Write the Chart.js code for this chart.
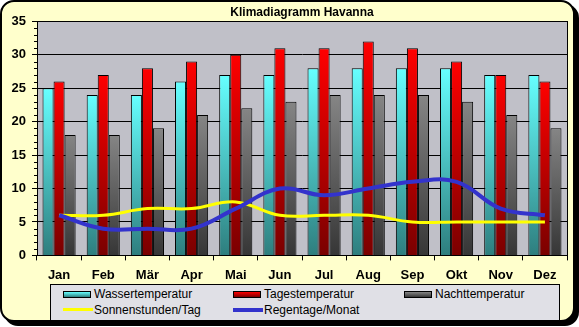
<!DOCTYPE html>
<html>
<head>
<meta charset="utf-8">
<script src="https://cdn.jsdelivr.net/npm/chart.js@4/dist/chart.umd.min.js"></script>
<style>
	html, body { margin: 0; padding: 0; background: #fff; }
	#wrap { position: relative; width: 579px; height: 327px; overflow: hidden; }
	#frame {
		position: absolute; left: 0; top: 0; width: 571px; height: 318px;
		background: #ffffcc; border: 2px solid #000; border-radius: 14px;
		box-shadow: 4px 4px 0 #000;
	}
	#chart { position: absolute; left: 0; top: 0; }
	#legend {
		position: absolute; left: 50px; top: 284px; width: 508px; height: 35px;
		background: #e0e0e6; border: 1px solid #000;
		font: 12px "Liberation Sans", Arial, sans-serif; color: #000;
	}
	.item { position: absolute; height: 16px; line-height: 16px; white-space: nowrap; }
	.sw { position: absolute; left: 0; top: 5px; width: 26px; height: 5px; border: 1px solid #000; }
	.ln { position: absolute; left: 0; top: 6px; width: 30px; height: 3px; }
	.item span.t { position: absolute; left: 31px; top: 0; }
</style>
</head>
<body>
<div id="wrap">
	<div id="frame"></div>
	<canvas id="chart" width="579" height="327"></canvas>
	<div id="legend"></div>
</div>
<script>
( function () {
	'use strict';

	var months      = [ 'Jan', 'Feb', 'Mär', 'Apr', 'Mai', 'Jun', 'Jul', 'Aug', 'Sep', 'Okt', 'Nov', 'Dez' ];
	var wasserTemp  = [ 25, 24, 24, 26, 27, 27, 28, 28, 28, 28, 27, 27 ];
	var tagesTemp   = [ 26, 27, 28, 29, 30, 31, 31, 32, 31, 29, 27, 26 ];
	var nachtTemp   = [ 18, 18, 19, 21, 22, 23, 24, 24, 24, 23, 21, 19 ];
	var sonnenStd   = [ 6, 6, 7, 7, 8, 6, 6, 6, 5, 5, 5, 5 ];
	var regenTage   = [ 6, 4, 4, 4, 7, 10, 9, 10, 11, 11, 7, 6 ];
	var yTicks      = [ 0, 5, 10, 15, 20, 25, 30, 35 ];

	Chart.defaults.font.family = '"Liberation Sans", Arial, sans-serif';
	Chart.defaults.color = '#000';

	// vertical gradient from the top of each bar down to the axis
	function barGradient( top, bottom ) {
		return function ( ctx ) {
			var chart = ctx.chart;
			if ( !chart.chartArea || ctx.raw === undefined ) {
				return top;
			}
			var y = chart.scales.y;
			var g = chart.ctx.createLinearGradient( 0, y.getPixelForValue( ctx.raw ), 0, y.getPixelForValue( 0 ) );
			g.addColorStop( 0, top );
			g.addColorStop( 1, bottom );
			return g;
		};
	}

	var plotFrame = {
		id: 'plotFrame',
		beforeDraw: function ( chart ) {
			var a = chart.chartArea, c = chart.ctx;
			c.save();
			c.fillStyle = '#c0c0c8';
			c.fillRect( a.left, a.top, a.right - a.left, a.bottom - a.top );
			c.restore();
		},
		afterDraw: function ( chart ) {
			var a = chart.chartArea, c = chart.ctx, y = chart.scales.y;
			c.save();
			c.strokeStyle = '#000';
			c.lineWidth = 1;
			c.strokeRect( Math.round( a.left ) + 0.5, Math.round( a.top ) + 0.5,
				Math.round( a.right - a.left ), Math.round( a.bottom - a.top ) );
			// minor ticks on the value axis
			c.beginPath();
			for ( var v = y.min; v <= y.max; v++ ) {
				if ( v % 5 === 0 ) { continue; }
				var py = Math.round( y.getPixelForValue( v ) ) + 0.5;
				c.moveTo( a.left - 3, py );
				c.lineTo( a.left, py );
			}
			c.stroke();
			c.restore();
		}
	};

	var datasets = [
		{ type: 'line', label: 'Regentage/Monat', data: regenTage, borderColor: '#3333cc', borderWidth: 4,
			pointRadius: 0, tension: 0.4, fill: false, order: 0, swatch: 'line' },
		{ type: 'line', label: 'Sonnenstunden/Tag', data: sonnenStd, borderColor: '#ffff00', borderWidth: 3,
			pointRadius: 0, tension: 0.4, fill: false, order: 1, swatch: 'line' },
		{ label: 'Wassertemperatur', data: wasserTemp, backgroundColor: barGradient( '#66ffff', '#2e7e7e' ),
			borderColor: '#000', borderWidth: 1, order: 2, c1: '#66ffff', c2: '#2e7e7e' },
		{ label: 'Tagestemperatur', data: tagesTemp, backgroundColor: barGradient( '#ff0000', '#7a0000' ),
			borderColor: '#000', borderWidth: 1, order: 2, c1: '#ff0000', c2: '#7a0000' },
		{ label: 'Nachttemperatur', data: nachtTemp, backgroundColor: barGradient( '#858585', '#363636' ),
			borderColor: '#000', borderWidth: 1, order: 2, c1: '#858585', c2: '#363636' }
	];

	new Chart( document.getElementById( 'chart' ).getContext( '2d' ), {
		type: 'bar',
		data: { labels: months, datasets: datasets },
		plugins: [ plotFrame ],
		options: {
			responsive: false,
			animation: false,
			events: [],
			layout: { padding: { left: 0, right: 12, top: 5, bottom: 37 } },
			datasets: { bar: { categoryPercentage: 0.75, barPercentage: 1.0 } },
			plugins: {
				legend: { display: false },
				tooltip: { enabled: false },
				title: {
					display: true, text: 'Klimadiagramm Havanna', fullSize: false,
					font: { size: 12, weight: 'bold' }, color: '#000',
					padding: { top: 0, bottom: 2 }
				}
			},
			scales: {
				x: {
					offset: true,
					grid: { display: true, drawOnChartArea: false, offset: true, tickLength: 5, tickColor: '#000' },
					border: { color: '#000', width: 1 },
					ticks: { font: { size: 13, weight: 'bold' }, color: '#000', padding: 7, maxRotation: 0 }
				},
				y: {
					min: 0, max: 35,
					afterFit: function ( s ) { s.width = 37; },
					afterBuildTicks: function ( s ) { s.ticks = yTicks.map( function ( v ) { return { value: v }; } ); },
					grid: { color: '#000', tickColor: '#000', tickLength: 5 },
					border: { color: '#000', width: 1 },
					ticks: { font: { size: 13, weight: 'bold' }, color: '#000', padding: 6 }
				}
			}
		}
	} );

	// legend laid out like the original three-column box
	var order = [ 'Wassertemperatur', 'Tagestemperatur', 'Nachttemperatur', 'Sonnenstunden/Tag', 'Regentage/Monat' ];
	var colX = [ 12, 182, 353 ];
	var rowY = [ 1, 17 ];
	var legend = document.getElementById( 'legend' );
	order.forEach( function ( name, i ) {
		var ds = datasets.filter( function ( d ) { return d.label === name; } )[ 0 ];
		var item = document.createElement( 'div' );
		item.className = 'item';
		item.style.left = colX[ i % 3 ] + 'px';
		item.style.top = rowY[ Math.floor( i / 3 ) ] + 'px';
		var mark = document.createElement( 'div' );
		if ( ds.swatch === 'line' ) {
			mark.className = 'ln';
			mark.style.background = ds.borderColor;
			mark.style.height = ds.borderWidth + 'px';
		} else {
			mark.className = 'sw';
			mark.style.background = 'linear-gradient(to bottom, ' + ds.c1 + ', ' + ds.c2 + ')';
		}
		var t = document.createElement( 'span' );
		t.className = 't';
		t.textContent = name;
		item.appendChild( mark );
		item.appendChild( t );
		legend.appendChild( item );
	} );
} )();
</script>
</body>
</html>
